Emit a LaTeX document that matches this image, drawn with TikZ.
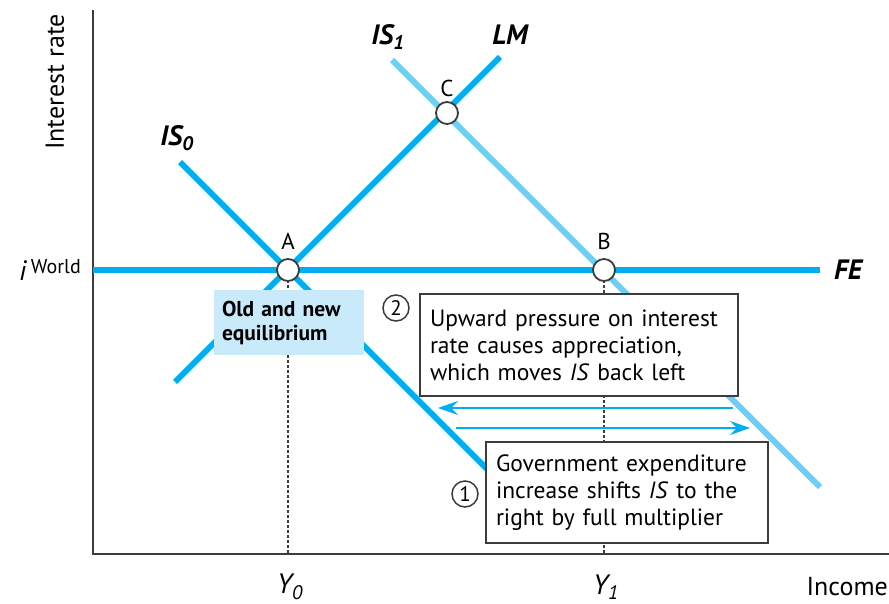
\documentclass[tikz,border=0pt]{standalone}
\usepackage{fontspec}
\setmainfont{PT Sans}
\usetikzlibrary{arrows.meta,positioning}
\definecolor{curvec} {RGB}{  0,174,239}
\definecolor{curvelt}{RGB}{110,206,245}
\definecolor{eqfill} {RGB}{200,234,250}
\definecolor{framec} {RGB}{ 60, 60, 60}
\tikzset{
  crv/.style   ={line width=6pt,draw=curvec},
  crvlt/.style ={crv,draw=curvelt},
  axisln/.style={line width=2pt,draw=framec},
  guide/.style ={line width=1.5pt,draw=framec,dash pattern=on 3pt off 2pt},
  pt/.style    ={circle,draw=framec,fill=white,line width=1.8pt,
                 minimum size=22pt,inner sep=0pt},
  ptlbl/.style ={font=\fontsize{23}{26}\selectfont,inner sep=0pt},
  crvlbl/.style={font=\fontsize{28}{30}\selectfont\bfseries\itshape,inner sep=0pt},
  note/.style  ={rectangle,draw=framec,line width=2pt,fill=white,align=left,
                 font=\fontsize{23.5}{27}\selectfont,inner xsep=10pt,inner ysep=0pt},
  eqnote/.style={rectangle,fill=eqfill,align=left,inner xsep=8pt,inner ysep=0pt,
                 font=\fontsize{21.5}{24}\selectfont\bfseries},
  numc/.style  ={circle,draw=framec,line width=1.5pt,minimum size=26pt,
                 inner sep=0pt,font=\fontsize{21}{21}\selectfont},
  mvarr/.style ={-{Stealth[length=20pt,width=14pt,inset=7pt]},line width=2pt,draw=curvec},
  axlbl/.style ={font=\fontsize{26}{28}\selectfont,inner sep=0pt},
}

\begin{document}
\begin{tikzpicture}[x=1pt,y=-1pt]
  \useasboundingbox (0,0) rectangle (889,604);
  % axes
  \coordinate (ytop) at (93,10);
  \coordinate (orig) at (93,554);
  \coordinate (xend) at (889,554);
  \draw[axisln] (ytop) -- (orig) -- (xend);
  \node[axlbl,rotate=90] (ylbl) at (55,82) {Interest rate};
  \node[axlbl,anchor=east] (xlbl) at (888,587) {Income};
  \node[axlbl,anchor=east] (iw) at (81,270)
       {\fontsize{28}{30}\selectfont\itshape i\,\raisebox{7pt}{\upshape\fontsize{20}{22}\selectfont World}};

  % curve ends
  \coordinate (is0s) at (180,162);
  \coordinate (is0e) at (490,472);
  \coordinate (lms)  at (175,382);
  \coordinate (lme)  at (500,57);
  \coordinate (is1s) at (392,60);
  \coordinate (is1e) at (820,487);
  \coordinate (fes)  at (93,270);
  \coordinate (fee)  at (820,270);
  \coordinate (y0ax) at (288,554);
  \coordinate (y1ax) at (604,554);

  % guides
  \draw[guide] (288,270) -- (y0ax);
  \draw[guide] (604,270) -- (y1ax);

  % curves
  \draw[crvlt] (is1s) -- (is1e);
  \draw[crv] (is0s) -- (is0e);
  \draw[crv] (lms) -- (lme);
  \draw[crv] (fes) -- (fee);

  % equilibrium points
  \node[pt] (ptA) at (288,270) {};
  \node[pt] (ptB) at (604,270) {};
  \node[pt] (ptC) at (447,113) {};
  \node[ptlbl,above=8pt of ptA] (lblA) {A};
  \node[ptlbl,above=8pt of ptB] (lblB) {B};
  \node[ptlbl,above=4pt of ptC] (lblC) {C};

  % curve labels
  \node[crvlbl] (is0l) at (177,138) {IS\textsubscript{0}};
  \node[crvlbl] (is1l) at (388,37)  {IS\textsubscript{1}};
  \node[crvlbl] (lml)  at (510,35)  {LM};
  \node[crvlbl] (fel)  at (848,270) {FE};

  % axis values
  \node[axlbl] (y0l) at (290,587) {\fontsize{28}{30}\selectfont\itshape Y\textsubscript{0}};
  \node[axlbl] (y1l) at (606,587) {\fontsize{28}{30}\selectfont\itshape Y\textsubscript{1}};

  % notes
  \node[eqnote,minimum width=148pt,minimum height=65pt,text width=134pt]
       (eqbox) at (289,322.5) {Old and new\\equilibrium};
  \node[note,minimum width=318pt,minimum height=102pt,text width=298pt]
       (note2) at (579,345) {Upward pressure on interest\\rate causes appreciation,\\which moves \textit{IS} back left};
  \node[note,minimum width=282pt,minimum height=101pt,text width=262pt]
       (note1) at (627,492.5) {Government expenditure\\increase shifts \textit{IS} to the\\right by full multiplier};
  \node[numc] (num2) at (396,308) {2};
  \node[numc] (num1) at (465,494) {1};

  % shifts
  \coordinate (bk0) at (733,408);
  \coordinate (bk1) at (438,408);
  \coordinate (fw0) at (456,428);
  \coordinate (fw1) at (750,428);
  \draw[mvarr] (bk0) -- (bk1);
  \draw[mvarr] (fw0) -- (fw1);
\end{tikzpicture}
\end{document}
